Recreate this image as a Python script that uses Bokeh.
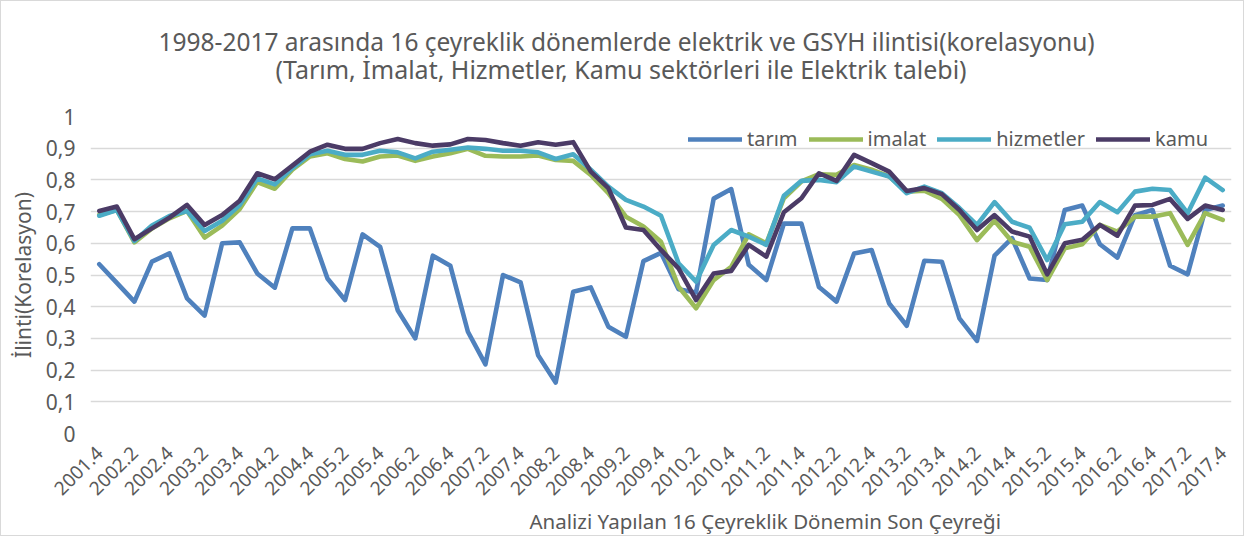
import math
from bokeh.plotting import figure
from bokeh.models import (ColumnDataSource, FixedTicker, CustomJSTickFormatter, Legend,
                          LegendItem, Title, Range1d)
from bokeh.embed import file_html
from bokeh.resources import INLINE

quarters = [
    "2001.4",
    "2002.1", "2002.2", "2002.3", "2002.4",
    "2003.1", "2003.2", "2003.3", "2003.4",
    "2004.1", "2004.2", "2004.3", "2004.4",
    "2005.1", "2005.2", "2005.3", "2005.4",
    "2006.1", "2006.2", "2006.3", "2006.4",
    "2007.1", "2007.2", "2007.3", "2007.4",
    "2008.1", "2008.2", "2008.3", "2008.4",
    "2009.1", "2009.2", "2009.3", "2009.4",
    "2010.1", "2010.2", "2010.3", "2010.4",
    "2011.1", "2011.2", "2011.3", "2011.4",
    "2012.1", "2012.2", "2012.3", "2012.4",
    "2013.1", "2013.2", "2013.3", "2013.4",
    "2014.1", "2014.2", "2014.3", "2014.4",
    "2015.1", "2015.2", "2015.3", "2015.4",
    "2016.1", "2016.2", "2016.3", "2016.4",
    "2017.1", "2017.2", "2017.3", "2017.4",
]

tarim = [0.534, 0.475, 0.416, 0.542, 0.568, 0.426, 0.372, 0.600, 0.603, 0.505,
         0.460, 0.647, 0.647, 0.489, 0.421, 0.628, 0.589, 0.389, 0.300, 0.561,
         0.529, 0.321, 0.218, 0.500, 0.477, 0.247, 0.161, 0.447, 0.461, 0.337,
         0.305, 0.544, 0.570, 0.455, 0.445, 0.741, 0.771, 0.532, 0.484, 0.662,
         0.662, 0.462, 0.416, 0.568, 0.579, 0.410, 0.340, 0.545, 0.542, 0.363,
         0.292, 0.561, 0.616, 0.489, 0.484, 0.705, 0.719, 0.597, 0.555, 0.689,
         0.705, 0.529, 0.502, 0.705, 0.719]

imalat = [0.690, 0.705, 0.603, 0.647, 0.679, 0.702, 0.618, 0.656, 0.708, 0.793,
          0.772, 0.832, 0.874, 0.884, 0.866, 0.858, 0.874, 0.877, 0.860, 0.874,
          0.884, 0.898, 0.876, 0.874, 0.874, 0.877, 0.863, 0.860, 0.816, 0.758,
          0.684, 0.653, 0.605, 0.463, 0.395, 0.484, 0.526, 0.628, 0.600, 0.742,
          0.795, 0.818, 0.816, 0.847, 0.832, 0.811, 0.763, 0.766, 0.740, 0.689,
          0.610, 0.671, 0.605, 0.589, 0.484, 0.584, 0.597, 0.658, 0.637, 0.684,
          0.684, 0.695, 0.595, 0.695, 0.674]

hizmetler = [0.687, 0.705, 0.607, 0.656, 0.686, 0.702, 0.639, 0.671, 0.721, 0.805,
             0.786, 0.837, 0.881, 0.892, 0.879, 0.879, 0.892, 0.887, 0.868, 0.889,
             0.895, 0.902, 0.898, 0.892, 0.892, 0.887, 0.866, 0.881, 0.832, 0.779,
             0.737, 0.716, 0.687, 0.537, 0.479, 0.595, 0.642, 0.621, 0.595, 0.750,
             0.797, 0.800, 0.793, 0.842, 0.826, 0.811, 0.758, 0.779, 0.758, 0.711,
             0.658, 0.730, 0.668, 0.649, 0.547, 0.660, 0.668, 0.730, 0.698, 0.763,
             0.772, 0.768, 0.695, 0.807, 0.768]

kamu = [0.702, 0.716, 0.613, 0.647, 0.681, 0.721, 0.658, 0.689, 0.734, 0.821,
        0.802, 0.845, 0.889, 0.911, 0.898, 0.898, 0.916, 0.929, 0.916, 0.908,
        0.912, 0.929, 0.926, 0.916, 0.908, 0.919, 0.911, 0.919, 0.826, 0.774,
        0.650, 0.642, 0.579, 0.521, 0.421, 0.505, 0.513, 0.595, 0.558, 0.698,
        0.742, 0.821, 0.797, 0.879, 0.853, 0.826, 0.765, 0.774, 0.755, 0.705,
        0.642, 0.689, 0.637, 0.621, 0.502, 0.600, 0.611, 0.658, 0.624, 0.719,
        0.721, 0.740, 0.677, 0.719, 0.705]

series_names = ["tarım", "imalat", "hizmetler", "kamu"]
series_colors = ["#4f81bd", "#9bbb59", "#4bacc6", "#4b3b66"]

title_line1 = "1998-2017 arasında 16 çeyreklik dönemlerde elektrik ve GSYH ilintisi(korelasyonu)"
title_line2 = "(Tarım, İmalat, Hizmetler, Kamu sektörleri ile Elektrik talebi)"
x_title = "Analizi Yapılan 16 Çeyreklik Dönemin Son Çeyreği"
y_title = "İlinti(Korelasyon)"

TEXT = "#595959"
FONT = "Noto Sans"

n = len(quarters)
idx = list(range(n))
source = ColumnDataSource(dict(x=idx, tarim=tarim, imalat=imalat, hizmetler=hizmetler, kamu=kamu))

p = figure(width=1244, height=536, output_backend="svg", toolbar_location=None,
           title_location=None,
           x_range=Range1d(-0.5, n - 0.5), y_range=Range1d(0, 1),
           min_border_left=89, min_border_right=14, min_border_top=115, min_border_bottom=104)
p.outline_line_color = None
p.background_fill_color = "white"
p.border_fill_color = "white"
p.styles = {"border": "1px solid #d9d9d9", "box-sizing": "border-box"}

# grid
p.xgrid.grid_line_color = None
p.ygrid.grid_line_color = "#d9d9d9"
p.ygrid.grid_line_width = 1.5

# y axis
p.yaxis.ticker = FixedTicker(ticks=[k / 10 for k in range(11)])
p.yaxis.formatter = CustomJSTickFormatter(code="return String(Math.round(tick*10)/10).replace('.', ',');")
p.yaxis.axis_line_color = None
p.yaxis.major_tick_line_color = None
p.yaxis.minor_tick_line_color = None
p.yaxis.major_tick_out = 0
p.yaxis.major_tick_in = 0
p.yaxis.major_label_text_font = FONT
p.yaxis.major_label_text_font_size = "21px"
p.yaxis.major_label_text_color = TEXT
p.yaxis.major_label_standoff = 15
p.yaxis.axis_label = y_title
p.yaxis.axis_label_text_font = FONT
p.yaxis.axis_label_text_font_size = "21px"
p.yaxis.axis_label_text_font_style = "normal"
p.yaxis.axis_label_text_color = TEXT
p.yaxis.axis_label_standoff = 6

# x axis
p.xaxis.ticker = FixedTicker(ticks=idx[::2])
p.xaxis.major_label_overrides = {i: quarters[i] for i in idx[::2]}
p.xaxis.major_label_orientation = math.pi / 4
p.xaxis.axis_line_color = None
p.xaxis.major_tick_line_color = None
p.xaxis.minor_tick_line_color = None
p.xaxis.major_tick_out = 0
p.xaxis.major_tick_in = 0
p.xaxis.major_label_text_font = FONT
p.xaxis.major_label_text_font_size = "19px"
p.xaxis.major_label_text_color = TEXT
p.xaxis.major_label_standoff = 16
p.xaxis.axis_label_standoff = 0

# lines
renderers = []
for col, name, color in zip(["tarim", "imalat", "hizmetler", "kamu"], series_names, series_colors):
    r = p.line("x", col, source=source, line_color=color, line_width=4.6,
               line_join="round", line_cap="round")
    renderers.append((name, r))

legend = Legend(items=[LegendItem(label=nm, renderers=[r]) for nm, r in renderers],
                orientation="horizontal", location=(598, 281),
                glyph_width=54, glyph_height=20, spacing=11, label_standoff=5,
                padding=0, margin=0, background_fill_alpha=0, border_line_color=None,
                label_text_font=FONT, label_text_font_size="20px", label_text_color=TEXT)
p.add_layout(legend)

# titles (added from the frame outward)
spacer = Title(text=" ", text_font_size="10px", standoff=18)
t2 = Title(text=title_line2, align="left", offset=185, standoff=0,
           text_font=FONT, text_font_size="25px", text_font_style="normal", text_color=TEXT)
t1 = Title(text=title_line1, align="left", offset=68, standoff=-16,
           text_font=FONT, text_font_size="24.5px", text_font_style="normal", text_color=TEXT)
p.add_layout(spacer, "above")
p.add_layout(t2, "above")
p.add_layout(t1, "above")

tx = Title(text=x_title, align="left", offset=439, standoff=0,
           text_font=FONT, text_font_size="20.5px", text_font_style="normal", text_color=TEXT)
p.add_layout(tx, "below")

open("out.html", "w").write(file_html(p, INLINE))
